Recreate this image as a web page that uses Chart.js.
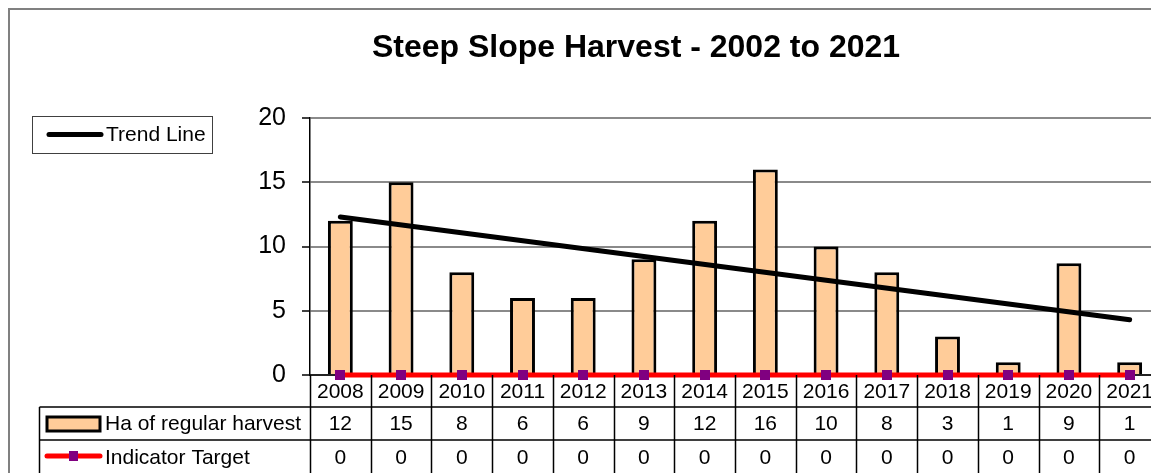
<!DOCTYPE html>
<html><head><meta charset="utf-8">
<script src="https://cdn.jsdelivr.net/npm/chart.js@4.4.1/dist/chart.umd.min.js"></script>
<style>
html,body{margin:0;padding:0;overflow:hidden;background:#fff;width:1151px;height:473px}
canvas{display:block}
</style></head>
<body>
<canvas id="c" width="1272" height="473" style="width:1272px;height:473px"></canvas>
<script>
// ---- data ----
const years = ['2008','2009','2010','2011','2012','2013','2014','2015','2016','2017','2018','2019','2020','2021'];
const harvest = [12, 15, 8, 6, 6, 9, 12, 16, 10, 8, 3, 1, 8.7, 1];      // bar heights
const harvestTable = [12, 15, 8, 6, 6, 9, 12, 16, 10, 8, 3, 1, 9, 1];   // values printed in the table
const target = [0, 0, 0, 0, 0, 0, 0, 0, 0, 0, 0, 0, 0, 0];
const trendStart = 12.3;  // trend line value at 2008
const trendEnd = 4.3;     // trend line value at 2021
const yTicks = [0, 5, 10, 15, 20];
const title = 'Steep Slope Harvest - 2002 to 2021';
const harvestLabel = 'Ha of regular harvest';
const targetLabel = 'Indicator Target';
const trendLabel = 'Trend Line';

const trend = years.map((_, i) => i === 0 ? trendStart : (i === years.length - 1 ? trendEnd : null));

const FONT = "'Liberation Sans', Arial, sans-serif";
Chart.defaults.font.family = FONT;

// purple square marker image
const marker = document.createElement('canvas');
marker.width = 10; marker.height = 10;
(function () { const m = marker.getContext('2d'); m.fillStyle = '#800080'; m.fillRect(0, 0, 10, 10); })();

const decor = {
  id: 'decor',
  beforeDraw(chart) {
    const ctx = chart.ctx;
    ctx.save();
    ctx.fillStyle = '#fff';
    ctx.fillRect(0, 0, chart.width, chart.height);
    ctx.strokeStyle = '#808080';
    ctx.lineWidth = 2;
    ctx.beginPath();
    ctx.moveTo(9, chart.height + 2);
    ctx.lineTo(9, 9);
    ctx.lineTo(chart.width - 9, 9);
    ctx.stroke();
    ctx.restore();
  },
  beforeDatasetsDraw(chart) {
    const { ctx, chartArea: a } = chart;
    ctx.save();
    ctx.strokeStyle = '#000';
    ctx.lineWidth = 1.5;
    ctx.beginPath();
    ctx.moveTo(a.left, a.bottom);
    ctx.lineTo(a.right, a.bottom);
    ctx.stroke();
    ctx.restore();
  },
  afterDraw(chart) {
    const { ctx, chartArea: a } = chart;
    const xs = chart.scales.x;
    const n = years.length;
    const w = (a.right - a.left) / n;
    const r0 = a.bottom, r1 = 407, r2 = 440, r3 = 474;
    ctx.save();
    ctx.strokeStyle = '#000';
    ctx.lineWidth = 1.5;
    ctx.beginPath();
    for (let i = 0; i <= n; i++) {
      const x = Math.round(a.left + i * w) + 0.5;
      ctx.moveTo(x, r0);
      ctx.lineTo(x, r3 + 5);
    }
    ctx.moveTo(39.5, r1); ctx.lineTo(39.5, r3 + 5);
    ctx.moveTo(39.5, r1); ctx.lineTo(a.right, r1);
    ctx.moveTo(39.5, r2); ctx.lineTo(a.right, r2);
    ctx.stroke();

    ctx.fillStyle = '#000';
    ctx.font = '21px ' + FONT;
    ctx.textAlign = 'center';
    ctx.textBaseline = 'middle';
    for (let i = 0; i < n; i++) {
      const cx = xs.getPixelForValue(i);
      ctx.fillText(years[i], cx, (r0 + r1) / 2 + 1);
      ctx.fillText(String(harvestTable[i]), cx, (r1 + r2) / 2 + 1);
      ctx.fillText(String(target[i]), cx, (r2 + r3) / 2 + 1);
    }

    // row headers
    ctx.textAlign = 'left';
    ctx.fillStyle = '#FFCC99';
    ctx.fillRect(47, 417, 53, 14);
    ctx.strokeStyle = '#000';
    ctx.lineWidth = 3;
    ctx.strokeRect(47, 417, 53, 14);
    ctx.fillStyle = '#000';
    ctx.fillText(harvestLabel, 105, (r1 + r2) / 2 + 1);

    ctx.strokeStyle = '#FF0000';
    ctx.lineWidth = 5;
    ctx.lineCap = 'round';
    ctx.beginPath();
    ctx.moveTo(47, 456); ctx.lineTo(100, 456);
    ctx.stroke();
    ctx.fillStyle = '#800080';
    ctx.fillRect(69, 451, 9, 10);
    ctx.fillStyle = '#000';
    ctx.fillText(targetLabel, 105, (r2 + r3) / 2 + 1);

    // trend legend box
    ctx.strokeStyle = '#404040';
    ctx.lineWidth = 1;
    ctx.strokeRect(32.5, 116.5, 180, 37);
    ctx.strokeStyle = '#000';
    ctx.lineWidth = 5;
    ctx.lineCap = 'round';
    ctx.beginPath();
    ctx.moveTo(49, 134.5); ctx.lineTo(101, 134.5);
    ctx.stroke();
    ctx.fillStyle = '#000';
    ctx.fillText(trendLabel, 106, 135.5);
    ctx.restore();
  }
};

new Chart(document.getElementById('c'), {
  type: 'bar',
  data: {
    labels: years,
    datasets: [
      {
        type: 'line', label: targetLabel, data: target, order: 1,
        borderColor: '#FF0000', borderWidth: 5,
        pointStyle: marker, pointRadius: 5,
        clip: false
      },
      {
        type: 'line', label: trendLabel, data: trend, order: 2, spanGaps: true,
        borderColor: '#000', borderWidth: 5, pointRadius: 0, borderCapStyle: 'round'
      },
      {
        type: 'bar', label: harvestLabel, data: harvest, order: 3,
        backgroundColor: '#FFCC99', borderColor: '#000', borderWidth: 3,
        barPercentage: 0.41, categoryPercentage: 1
      }
    ]
  },
  options: {
    responsive: false,
    animation: false,
    devicePixelRatio: 1,
    layout: { padding: { top: 0, left: 0, right: 0, bottom: 98 } },
    plugins: {
      legend: { display: false },
      tooltip: { enabled: false },
      title: {
        display: true, text: title, color: '#000',
        font: { size: 32, weight: 'bold', family: FONT },
        padding: { top: 29, bottom: 50.6 }
      }
    },
    scales: {
      x: { display: false, offset: true },
      y: {
        min: 0, max: 20,
        afterFit(scale) { scale.width = 310; },
        afterBuildTicks(scale) { scale.ticks = yTicks.map(v => ({ value: v })); },
        ticks: { color: '#000', font: { size: 25, family: FONT }, padding: 16 },
        grid: { color: '#8a8a8a', lineWidth: 2, tickColor: '#000', tickLength: 8, tickWidth: 1.5 },
        border: { display: true, color: '#000', width: 1.5 }
      },
      yRight: {
        position: 'right', display: true,
        afterFit(scale) { scale.width = 112; },
        ticks: { display: false },
        grid: { display: false, drawOnChartArea: false, drawTicks: false },
        border: { display: false }
      }
    }
  },
  plugins: [decor]
});
</script>
</body></html>
